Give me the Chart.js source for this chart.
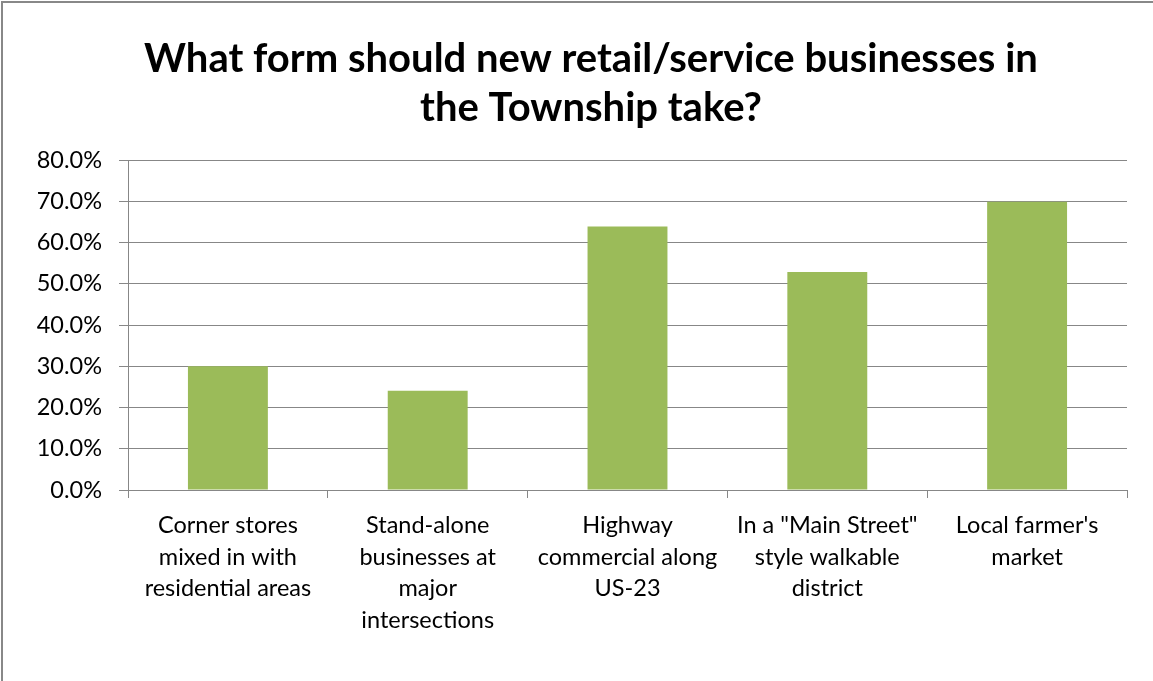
<!DOCTYPE html>
<html>
<head>
<meta charset="utf-8">
<script src="https://cdn.jsdelivr.net/npm/chart.js@4/dist/chart.umd.min.js"></script>
<style>
  html, body { margin: 0; padding: 0; background: #fff; overflow: hidden; }
  #wrap { position: relative; width: 1153px; height: 681px; }
  #frame { position: absolute; left: 1px; top: 1px; width: 1200px; height: 720px;
           border-left: 2px solid #888; border-top: 2px solid #888; pointer-events: none; }
  canvas { position: absolute; left: 0; top: 0; }
</style>
</head>
<body>
<div id="wrap">
  <canvas id="chart" width="1153" height="681"></canvas>
  <div id="frame"></div>
</div>
<script>
// Survey answer options (wrapped as they appear under the axis)
const categories = [
  ["Corner stores", "mixed in with", "residential areas"],
  ["Stand-alone", "businesses at", "major", "intersections"],
  ["Highway", "commercial along", "US-23"],
  ["In a \"Main Street\"", "style walkable", "district"],
  ["Local farmer's", "market"]
];
// Share of respondents choosing each option (%)
const shares = [30.0, 24.1, 63.9, 52.9, 69.9];
// Value axis range and step (%)
const axisMin = 0;
const axisMax = 80;
const axisStep = 10;

const titleLines = ["What form should new retail/service businesses in", "the Township take?"];

const GRID = '#878787';
const FONT = 'Lato, "Open Sans", "DejaVu Sans", sans-serif';

new Chart(document.getElementById('chart'), {
  type: 'bar',
  data: {
    labels: categories,
    datasets: [{
      data: shares,
      backgroundColor: '#9BBB59',
      borderWidth: 0,
      barPercentage: 0.4,
      categoryPercentage: 1.0,
      yAxisID: 'y'
    }]
  },
  options: {
    responsive: false,
    animation: false,
    layout: { padding: { left: 30, right: 1, top: 0, bottom: 0 } },
    plugins: {
      legend: { display: false },
      tooltip: { enabled: false },
      title: {
        display: true,
        text: titleLines,
        color: '#000',
        font: { family: FONT, size: 40, weight: 'bold', lineHeight: 1.215 },
        padding: { top: 35, bottom: 28 }
      }
    },
    scales: {
      x: {
        grid: {
          display: true,
          offset: true,
          drawOnChartArea: false,
          drawTicks: true,
          tickLength: 8,
          color: GRID,
          lineWidth: 1
        },
        border: { display: true, color: GRID, width: 1 },
        ticks: {
          color: '#000',
          maxRotation: 0,
          autoSkip: false,
          padding: 12,
          font: { family: FONT, size: 23.5, lineHeight: 1.34 }
        },
        afterFit: (s) => { s.height = 191; }
      },
      y: {
        position: 'left',
        min: axisMin,
        max: axisMax,
        grid: {
          color: GRID,
          lineWidth: 1,
          drawTicks: true,
          tickLength: 9
        },
        border: { display: true, color: GRID, width: 1 },
        ticks: {
          stepSize: axisStep,
          color: '#000',
          padding: 17,
          font: { family: FONT, size: 23.5 },
          callback: (v) => Number(v).toFixed(1) + '%'
        },
        afterFit: (s) => { s.width = 98; }
      },
      // empty spacer on the right so the title sits over the frame's centre
      yRight: {
        position: 'right',
        display: true,
        grid: { display: false, drawTicks: false },
        border: { display: false },
        ticks: { display: false },
        afterFit: (s) => { s.width = 25; }
      }
    }
  }
});
</script>
</body>
</html>
